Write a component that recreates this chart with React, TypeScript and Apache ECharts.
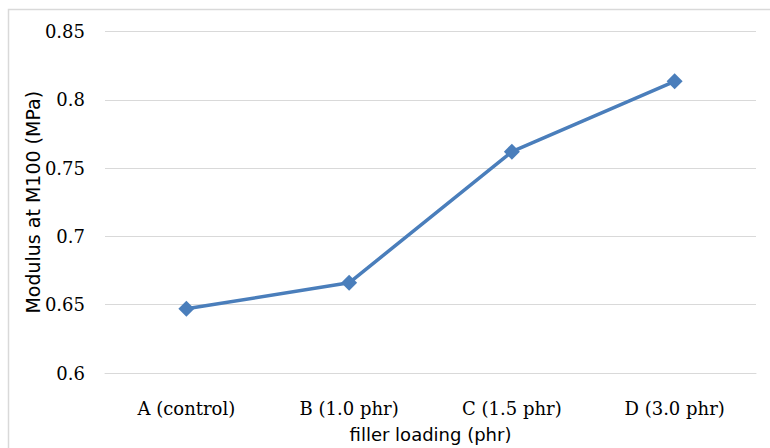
import React, { useEffect, useRef } from "react";
import * as echarts from "echarts";

const categories = ["A (control)", "B (1.0 phr)", "C (1.5 phr)", "D (3.0 phr)"];
const modulus = [0.647, 0.666, 0.762, 0.8135];
const yMin = 0.6;
const yMax = 0.85;
const yStep = 0.05;
const xTitle = "filler loading (phr)";
const yTitle = "Modulus at M100 (MPa)";

export default function App() {
  const ref = useRef<HTMLDivElement>(null);
  useEffect(() => {
    if (!ref.current) return;
    const chart = echarts.init(ref.current, null, { renderer: "svg" });
    chart.setOption({
      animation: false,
      backgroundColor: "#ffffff",
      graphic: [
        {
          type: "rect",
          shape: { x: 8.5, y: 9.5, width: 800, height: 500 },
          style: { fill: "none", stroke: "#d9d9d9", lineWidth: 1.5 },
          silent: true,
        },
      ],
      grid: { left: 105, right: 14, top: 31.5, bottom: 72.5, containLabel: false },
      xAxis: {
        type: "category",
        data: categories,
        boundaryGap: true,
        axisLine: { show: true, lineStyle: { color: "#d9d9d9", width: 1 } },
        axisTick: { show: false },
        axisLabel: {
          margin: 26,
          fontFamily: "DejaVu Serif",
          fontSize: 18,
          color: "#000",
        },
        name: xTitle,
        nameLocation: "middle",
        nameGap: 52,
        nameMoveOverlap: false,
        nameTextStyle: { fontFamily: "DejaVu Sans", fontSize: 18, color: "#000" },
      },
      yAxis: {
        type: "value",
        min: yMin,
        max: yMax,
        interval: yStep,
        axisLine: { show: false },
        axisTick: { show: false },
        splitLine: { show: true, lineStyle: { color: "#d9d9d9", width: 1 } },
        axisLabel: {
          margin: 20,
          fontFamily: "DejaVu Serif",
          fontSize: 18,
          color: "#000",
          formatter: (v: number) => String(parseFloat(v.toFixed(2))),
        },
        name: yTitle,
        nameLocation: "middle",
        nameRotate: 90,
        nameGap: 63,
        nameMoveOverlap: false,
        nameTextStyle: { fontFamily: "DejaVu Sans", fontSize: 19, color: "#000" },
      },
      series: [
        {
          type: "line",
          data: modulus,
          symbol: "diamond",
          symbolSize: 16,
          lineStyle: { color: "#4a7ebb", width: 3.5 },
          itemStyle: { color: "#4a7ebb" },
        },
      ],
    });
    return () => chart.dispose();
  }, []);
  return (
    <div
      ref={ref}
      style={{ position: "fixed", left: 0, top: 0, width: 770, height: 448 }}
    />
  );
}
